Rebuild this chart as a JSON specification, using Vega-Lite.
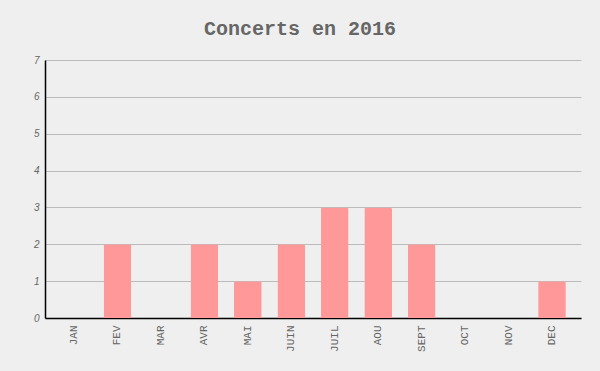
{
  "$schema": "https://vega.github.io/schema/vega-lite/v6.json",
  "autosize": {"type": "none"},
  "width": 536,
  "height": 258,
  "padding": {"left": 45, "top": 60, "right": 19, "bottom": 53},
  "background": "#efefef",
  "title": {
    "text": "Concerts en 2016",
    "font": "Liberation Mono",
    "fontSize": 20,
    "fontWeight": "bold",
    "color": "#666666",
    "anchor": "middle",
    "frame": "group",
    "dx": -13,
    "offset": 16
  },
  "config": {
    "view": {"stroke": null},
    "axis": {"labelColor": "#666666", "gridColor": "#bbbbbb", "domainColor": "#000000", "ticks": false}
  },
  "data": {
    "values": [
      {"mois": "JAN", "concerts": 0},
      {"mois": "FEV", "concerts": 2},
      {"mois": "MAR", "concerts": 0},
      {"mois": "AVR", "concerts": 2},
      {"mois": "MAI", "concerts": 1},
      {"mois": "JUIN", "concerts": 2},
      {"mois": "JUIL", "concerts": 3},
      {"mois": "AOU", "concerts": 3},
      {"mois": "SEPT", "concerts": 2},
      {"mois": "OCT", "concerts": 0},
      {"mois": "NOV", "concerts": 0},
      {"mois": "DEC", "concerts": 1}
    ]
  },
  "mark": {"type": "bar", "color": "#ff9999", "cornerRadiusTopLeft": 2, "cornerRadiusTopRight": 2},
  "encoding": {
    "x": {
      "field": "mois",
      "type": "nominal",
      "sort": null,
      "scale": {"paddingInner": 0.3625, "paddingOuter": 0.349},
      "axis": {
        "title": null,
        "labelAngle": 270,
        "labelFont": "Liberation Mono",
        "labelFontSize": 11,
        "labelPadding": 7,
        "grid": false,
        "domainWidth": 1.5
      }
    },
    "y": {
      "field": "concerts",
      "type": "quantitative",
      "scale": {"domain": [0, 7], "nice": false},
      "axis": {
        "title": null,
        "values": [0, 1, 2, 3, 4, 5, 6, 7],
        "labelFont": "Liberation Sans",
        "labelFontStyle": "italic",
        "labelFontSize": 10,
        "labelPadding": 6,
        "grid": true,
        "domainWidth": 1.5
      }
    }
  }
}
